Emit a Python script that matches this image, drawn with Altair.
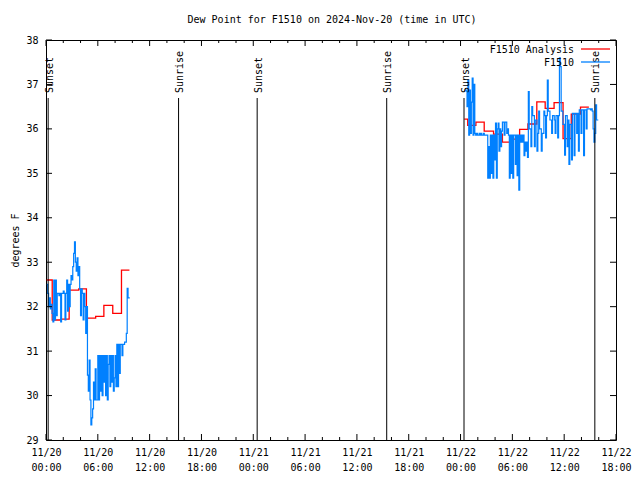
import altair as alt
import pandas as pd

FONT = "DejaVu Sans Mono"
BASE_MS = 1732060800000  # 2024-11-20 00:00 UTC
H = 3600000

title_text = "Dew Point for F1510 on 2024-Nov-20 (time in UTC)"
y_title = "degrees F"

x_major_hours = [0, 6, 12, 18, 24, 30, 36, 42, 48, 54, 60, 66]
x_minor_hours = [2, 4, 8, 10, 14, 16, 20, 22, 26, 28, 32, 34, 38, 40, 44, 46, 50, 52, 56, 58, 62, 64]
y_ticks = [29, 30, 31, 32, 33, 34, 35, 36, 37, 38]

# Observations (F1510), sampled every 0.1 h
obs_step_h = 0.1
obs_left_start_h = 0.1
obs_left = [32.5, 32.3, 32.0, 32.2, 31.95, 32.05, 31.85, 31.66, 32.6, 31.7,
            32.6, 31.8, 32.3, 32.3, 32.25, 32.3, 31.66, 32.3, 32.3, 32.35,
            32.3, 31.7, 32.3, 32.6, 31.9, 32.5, 32.0, 32.5, 32.7, 32.6,
            32.9, 33.2, 33.46, 33.0, 32.8, 33.1, 32.7, 32.9, 32.4, 31.8,
            32.4, 32.3, 31.7, 32.3, 32.0, 31.4, 32.0, 30.46, 30.1, 30.8,
            29.9, 29.34, 29.5, 29.7, 30.3, 29.9, 30.6, 29.9, 29.9, 30.9,
            29.9, 30.9, 30.1, 30.9, 30.0, 30.9, 30.3, 30.9, 30.0, 30.9,
            29.9, 30.7, 30.9, 30.2, 30.9, 30.3, 30.9, 30.1, 30.4, 30.9,
            30.2, 31.15, 30.2, 31.15, 30.5, 31.15, 31.15, 30.9, 31.15, 31.15,
            31.2, 31.2, 31.4, 32.41, 32.2, 32.2]
obs_right_start_h = 48.45
obs_right = [36.87, 36.87, 36.85, 36.5, 37.1, 35.86, 36.87, 35.9, 36.6, 37.14,
             35.86, 37.0, 35.9, 35.86, 35.9, 35.86, 35.86, 35.9, 35.86, 35.9,
             35.86, 35.86, 35.9, 35.86, 35.86, 35.86, 35.86, 34.89, 35.6, 34.89,
             35.86, 35.0, 35.86, 34.89, 35.86, 35.3, 36.13, 34.89, 36.0, 36.13,
             35.5, 36.0, 35.6, 35.95, 36.15, 36.15, 35.86, 36.15, 36.15, 35.9,
             36.0, 35.86, 34.89, 35.86, 35.0, 35.86, 34.89, 35.86, 35.86, 35.2,
             35.86, 34.95, 35.86, 34.62, 35.86, 35.7, 35.86, 35.7, 35.86, 35.4,
             35.7, 35.5, 35.7, 35.36, 36.84, 36.0, 36.0, 35.6, 36.5, 36.3,
             36.3, 35.6, 36.2, 36.2, 35.5, 35.9, 36.4, 36.0, 36.0, 35.5,
             35.9, 35.9, 36.4, 36.3, 35.8, 36.3, 37.1, 36.4, 36.4, 36.2,
             36.2, 35.9, 36.3, 36.3, 36.2, 35.9, 36.3, 36.3, 35.8, 36.3,
             37.6, 37.4, 36.4, 36.4, 36.1, 36.1, 35.41, 36.3, 36.3, 35.6,
             36.2, 35.2, 36.1, 36.1, 35.3, 36.35, 36.35, 35.4, 36.35, 36.35,
             35.9, 36.35, 35.5, 36.43, 36.43, 35.9, 36.43, 36.43, 35.4, 36.43,
             36.43, 36.0, 36.45, 36.45, 36.45, 36.45, 36.43, 36.45, 36.4, 36.0,
             35.7, 35.9, 36.54, 36.2, 36.2]

# Analysis (hourly steps): start hours and values; last entry marks the end
ana_left_hours = [0.08, 0.72, 1.72, 2.68, 3.79, 4.68, 5.75, 6.70, 7.73, 8.74, 9.66]
ana_left_vals = [32.6, 31.7, 31.72, 32.37, 32.4, 31.74, 31.78, 32.03, 31.85, 32.82, 32.82]
ana_right_hours = [48.44, 48.83, 49.78, 50.74, 51.82, 52.85, 53.81, 54.84, 55.80, 56.83,
                   57.80, 58.83, 59.87, 60.82, 61.89, 62.86]
ana_right_vals = [36.22, 36.08, 36.15, 35.95, 35.88, 35.70, 35.77, 35.99, 36.11, 36.61,
                  36.46, 36.59, 35.78, 36.33, 36.49, 36.49]

sun_labels = ["Sunset", "Sunrise", "Sunset", "Sunrise", "Sunset", "Sunrise"]
sun_hours = [0.25, 15.35, 24.45, 39.45, 48.4, 63.55]

W, HGT = 570, 400


def ms(h):
    return BASE_MS + h * H


rows = []
for seg, (start, vals) in enumerate([(obs_left_start_h, obs_left), (obs_right_start_h, obs_right)]):
    for i, v in enumerate(vals):
        rows.append({"t": ms(start + i * obs_step_h), "v": v, "seg": seg})
    rows.append({"t": ms(start + len(vals) * obs_step_h), "v": vals[-1], "seg": seg})
obs_df = pd.DataFrame(rows)

rows = []
for seg, (hs, vs) in enumerate([(ana_left_hours, ana_left_vals), (ana_right_hours, ana_right_vals)]):
    for h, v in zip(hs, vs):
        rows.append({"t": ms(h), "v": v, "seg": seg})
ana_df = pd.DataFrame(rows)

sun_df = pd.DataFrame({"t": [ms(h) for h in sun_hours], "label": sun_labels})
xmaj_df = pd.DataFrame({"t": [ms(h) for h in x_major_hours]})
xmin_df = pd.DataFrame({"t": [ms(h) for h in x_minor_hours]})
ytick_df = pd.DataFrame({"v": y_ticks})

xscale = alt.Scale(type="utc", domain=[ms(0), ms(66)], nice=False)
yscale = alt.Scale(domain=[29, 38], nice=False, zero=False)

xaxis = alt.Axis(
    values=[ms(h) for h in x_major_hours],
    labelExpr="[utcFormat(datum.value, '%m/%d'), utcFormat(datum.value, '%H:%M')]",
    title=None, ticks=False, domain=False, grid=False,
    labelFont=FONT, labelFontSize=10, labelLineHeight=15, labelPadding=7,
    labelColor="black", labelFlush=False, labelOverlap=False,
)
yaxis = alt.Axis(
    values=y_ticks, format="d", title=y_title, ticks=False, domain=False, grid=False,
    labelFont=FONT, labelFontSize=10, labelPadding=8, labelColor="black",
    titleFont=FONT, titleFontSize=10, titleFontWeight="normal", titleColor="black",
    titlePadding=5,
)

X = alt.X("t:T", scale=xscale, axis=xaxis)
Y = alt.Y("v:Q", scale=yscale, axis=yaxis)

ana = alt.Chart(ana_df).mark_line(interpolate="step-after", color="#ff0000", strokeWidth=1.3).encode(
    x=X, y=Y, detail="seg:N")
obs = alt.Chart(obs_df).mark_line(interpolate="step-after", color="#0080ff", strokeWidth=1.2).encode(
    x=X, y=Y, detail="seg:N")

sun_rule = alt.Chart(sun_df).mark_rule(color="black", strokeWidth=1).encode(
    x=X, y=alt.value(58), y2=alt.value(HGT))
sun_text = alt.Chart(sun_df).mark_text(
    angle=270, align="left", baseline="middle", dy=1.5, font=FONT, fontSize=10, color="black"
).encode(x=X, y=alt.value(53), text="label:N")

bot_major = alt.Chart(xmaj_df).mark_rule(color="black").encode(x=X, y=alt.value(HGT), y2=alt.value(HGT - 6))
top_major = alt.Chart(xmaj_df).mark_rule(color="black").encode(x=X, y=alt.value(0), y2=alt.value(6))
bot_minor = alt.Chart(xmin_df).mark_rule(color="black").encode(x=X, y=alt.value(HGT), y2=alt.value(HGT - 3))
top_minor = alt.Chart(xmin_df).mark_rule(color="black").encode(x=X, y=alt.value(0), y2=alt.value(3))
left_ticks = alt.Chart(ytick_df).mark_rule(color="black").encode(y=Y, x=alt.value(0), x2=alt.value(6))
right_ticks = alt.Chart(ytick_df).mark_rule(color="black").encode(y=Y, x=alt.value(W), x2=alt.value(W - 6))

one = pd.DataFrame({"k": [0]})
title_mark = alt.Chart(one).mark_text(align="center", baseline="middle", font=FONT, fontSize=10, color="black").encode(
    x=alt.value(286), y=alt.value(-20), text=alt.value(title_text))
leg1_text = alt.Chart(one).mark_text(align="right", baseline="middle", font=FONT, fontSize=10, color="black").encode(
    x=alt.value(528), y=alt.value(10), text=alt.value("F1510 Analysis"))
leg1_line = alt.Chart(one).mark_rule(color="#ff0000", strokeWidth=1.3).encode(
    x=alt.value(535), x2=alt.value(564), y=alt.value(9))
leg2_text = alt.Chart(one).mark_text(align="right", baseline="middle", font=FONT, fontSize=10, color="black").encode(
    x=alt.value(528), y=alt.value(23), text=alt.value("F1510"))
leg2_line = alt.Chart(one).mark_rule(color="#0080ff", strokeWidth=1.3).encode(
    x=alt.value(535), x2=alt.value(564), y=alt.value(22))

chart = alt.layer(
    ana, obs, sun_rule, sun_text, bot_major, top_major, bot_minor, top_minor,
    left_ticks, right_ticks, title_mark, leg1_text, leg1_line, leg2_text, leg2_line,
).properties(
    width=W, height=HGT,
    padding={"left": 38, "top": 32, "right": 16, "bottom": 34},
    autosize=alt.AutoSizeParams(type="none"),
    background="white",
).configure_view(stroke="black", strokeWidth=1)

chart.save("out.html", embed_options={"renderer": "svg", "actions": False})
